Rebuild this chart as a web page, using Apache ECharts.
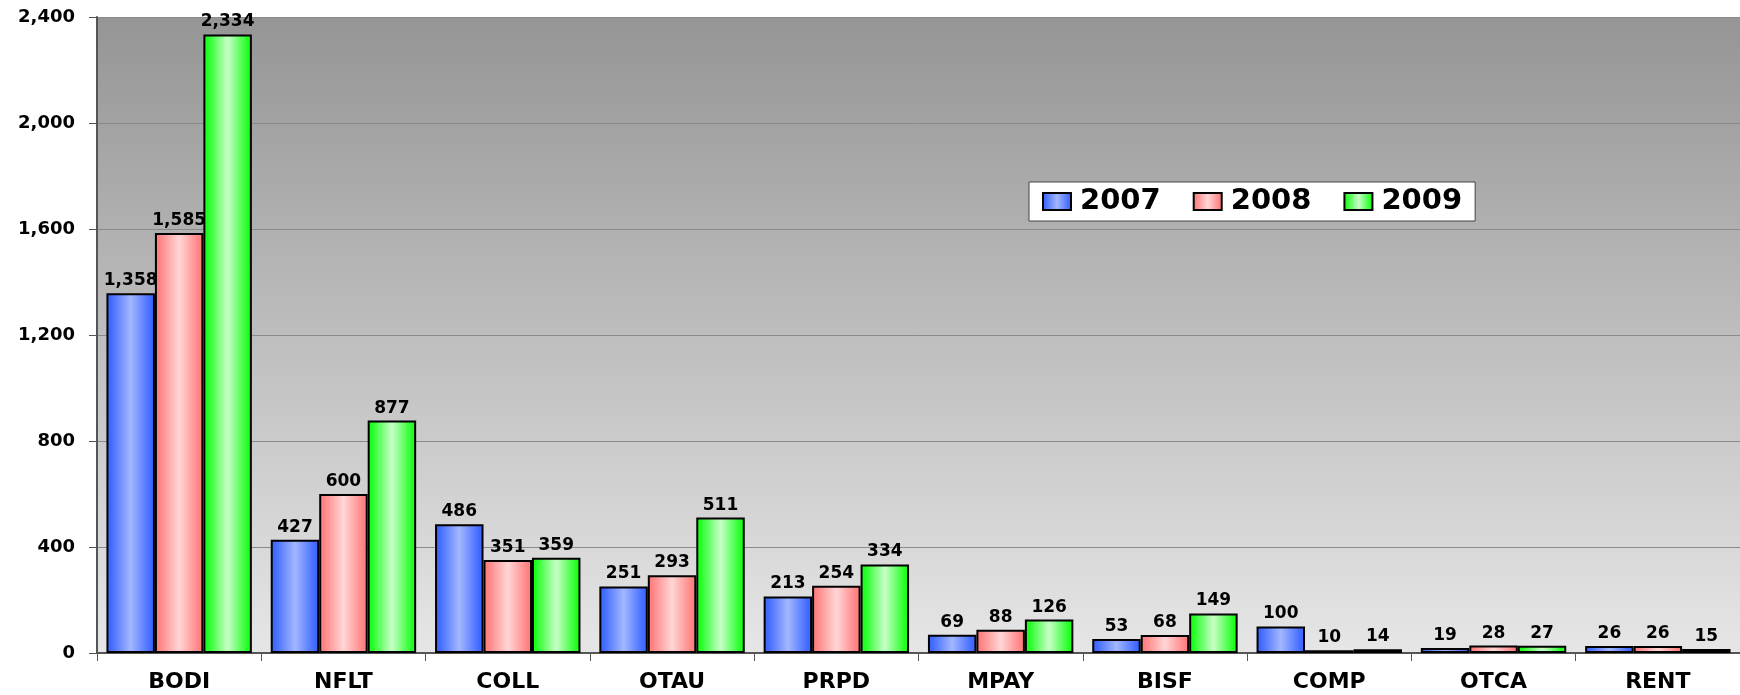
<!DOCTYPE html>
<html>
<head>
<meta charset="utf-8">
<script src="https://cdn.jsdelivr.net/npm/echarts@6/dist/echarts.min.js"></script>
<style>
  html, body { margin: 0; padding: 0; background: #fff; }
  #chart { width: 1740px; height: 695px; }
</style>
</head>
<body>
<div id="chart"></div>
<script>
  // chart data
  var categories = ['BODI', 'NFLT', 'COLL', 'OTAU', 'PRPD', 'MPAY', 'BISF', 'COMP', 'OTCA', 'RENT'];
  var years = ['2007', '2008', '2009'];
  var values2007 = [1358, 427, 486, 251, 213, 69, 53, 100, 19, 26];
  var values2008 = [1585, 600, 351, 293, 254, 88, 68, 10, 28, 26];
  var values2009 = [2334, 877, 359, 511, 334, 126, 149, 14, 27, 15];
  var yTicks = [0, 400, 800, 1200, 1600, 2000, 2400];

  var font = 'DejaVu Sans';
  var fmt = function (v) { return Number(v).toLocaleString('en-US'); };

  // bar gradients: saturated edges, light centre
  function barFill(edge, mid) {
    return new echarts.graphic.LinearGradient(0, 0, 1, 0, [
      {offset: 0, color: edge},
      {offset: 0.08, color: edge},
      {offset: 0.5, color: mid},
      {offset: 0.92, color: edge},
      {offset: 1, color: edge}
    ]);
  }
  var fills = [
    barFill('#3e68ff', '#a3b7ff'),
    barFill('#ff8080', '#ffd6d6'),
    barFill('#1eff1e', '#c8ffc8')
  ];

  var seriesValues = [values2007, values2008, values2009];
  var series = seriesValues.map(function (vals, i) {
    return {
      name: years[i],
      type: 'bar',
      data: vals,
      barGap: '0%',
      barCategoryGap: '11.5%',
      itemStyle: {color: fills[i], borderColor: '#000', borderWidth: 2},
      label: {
        show: true,
        position: 'top',
        distance: 4,
        color: '#000',
        fontFamily: font,
        fontWeight: 'bold',
        fontSize: 17,
        formatter: function (p) { return fmt(p.value); }
      }
    };
  });

  var chart = echarts.init(document.getElementById('chart'));
  chart.setOption({
    animation: false,
    backgroundColor: '#ffffff',
    grid: {
      left: 97, right: 0, top: 17, bottom: 42,
      show: true,
      borderWidth: 0,
      backgroundColor: new echarts.graphic.LinearGradient(0, 0, 0, 1, [
        {offset: 0, color: '#959595'},
        {offset: 1, color: '#e6e6e6'}
      ])
    },
    legend: {
      data: years,
      icon: 'rect',
      left: 1029,
      top: 182,
      orient: 'horizontal',
      backgroundColor: '#ffffff',
      borderColor: '#444',
      borderWidth: 1,
      borderRadius: 0,
      padding: [5, 13],
      itemWidth: 28,
      itemHeight: 17,
      itemGap: 32,
      textStyle: {fontFamily: font, fontWeight: 'bold', fontSize: 29, color: '#000', padding: [0, 0, 0, 4]}
    },
    xAxis: {
      type: 'category',
      data: categories,
      axisLine: {lineStyle: {color: '#555', width: 2}},
      axisTick: {show: true, length: 8, lineStyle: {color: '#555'}},
      axisLabel: {color: '#000', fontFamily: font, fontWeight: 'bold', fontSize: 22, margin: 18}
    },
    yAxis: {
      type: 'value',
      min: yTicks[0],
      max: yTicks[yTicks.length - 1],
      interval: yTicks[1] - yTicks[0],
      axisLine: {show: true, lineStyle: {color: '#555', width: 2}},
      axisTick: {show: true, length: 8, lineStyle: {color: '#555'}},
      splitLine: {lineStyle: {color: '#8a8a8a', width: 1}},
      axisLabel: {
        color: '#000', fontFamily: font, fontWeight: 'bold', fontSize: 18, margin: 22,
        formatter: fmt
      }
    },
    series: series
  });
</script>
</body>
</html>
